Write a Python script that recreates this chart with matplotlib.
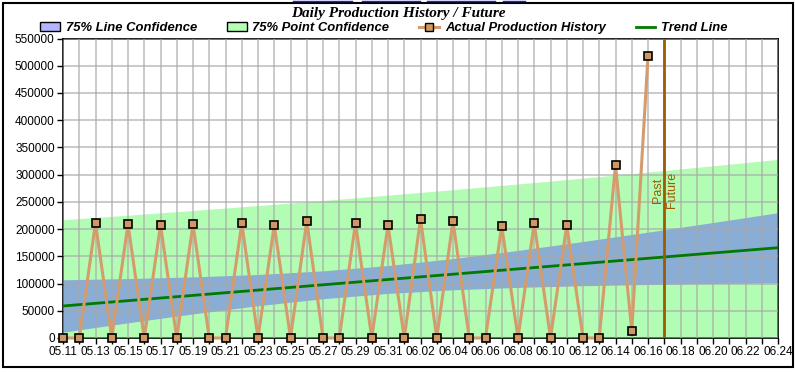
import matplotlib
matplotlib.use("Agg")
import matplotlib.pyplot as plt
from matplotlib.patches import Rectangle, Patch
from matplotlib.lines import Line2D
import numpy as np

# day labels (05.11 .. 06.24), one per day
days = ["05.%02d" % d for d in range(11, 32)] + ["06.%02d" % d for d in range(1, 25)]

# actual production history, 05.11 .. 06.16
actual = [0, 0, 211000, 0, 209000, 0, 207500, 0, 209000, 0,
          0, 211000, 0, 207500, 0, 214800, 0, 0, 211000, 0,
          207500, 0, 218500, 0, 214800, 0, 0, 205600, 0, 211000,
          0, 207500, 0, 0, 317600, 13200, 518000]

# trend line and confidence bands, read every 4 days
band_idx = [0, 4, 8, 12, 16, 20, 24, 28, 32, 36, 40, 44]
trend = [58800, 68530, 78260, 87980, 97710, 107440, 117170, 126900, 136620, 146350, 156080, 165810]
line_hi = [106860, 109130, 112200, 116630, 123310, 133040, 145820, 160840, 177220, 194410, 212080, 230080]
line_lo = [10740, 27930, 44320, 59330, 72110, 81840, 88520, 92960, 96020, 98290, 100080, 101540]
point_hi = [217200, 225520, 234190, 243190, 252560, 262290, 272380, 282830, 293610, 304750, 316220, 328010]
point_lo = [-99600, -88460, -77670, -67230, -57140, -47410, -38040, -29030, -20370, -12050, -4060, 3610]

split_day = "06.17"

C_GREEN = "#b3fcb3"
C_BLUE = "#8aadd6"
C_ACT = "#d49c6c"
C_MARK = "#cf9763"
C_SPLIT = "#a05a00"

fig = plt.figure(figsize=(7.95, 3.73), dpi=100)
ax = fig.add_axes([63 / 795, 35 / 373, 715 / 795, 299.5 / 373])

x = np.arange(len(days))
bx = np.array(band_idx)

ax.fill_between(bx, point_lo, point_hi, color=C_GREEN, lw=0, zorder=1)
ax.fill_between(bx, line_lo, line_hi, color=C_BLUE, lw=0, zorder=2)

ax.set_xticks(x)
ax.set_xticklabels([d if i % 2 == 0 else "" for i, d in enumerate(days)])
ax.set_yticks(np.arange(0, 550001, 50000))
ax.grid(True, color="#a8a8a8", lw=1.2, alpha=0.7, zorder=3)
ax.set_axisbelow(False)

ax.plot(bx, trend, color="#007a00", lw=2, zorder=4)
ax.plot(x[:len(actual)], actual, color=C_ACT, lw=2.2, marker="s", ms=6,
        mfc=C_MARK, mec="black", mew=1.2, zorder=5, clip_on=False)

sx = days.index(split_day)
ax.axvline(sx, color=C_SPLIT, lw=2, zorder=6)
ax.text(sx - 0.4, 271000, "Past", rotation=90, color=C_SPLIT, fontsize=9,
        ha="center", va="center", family="Liberation Sans", zorder=7)
ax.text(sx + 0.45, 271000, "Future", rotation=90, color=C_SPLIT, fontsize=9,
        ha="center", va="center", family="Liberation Sans", zorder=7)

ax.set_xlim(0, len(days) - 1)
ax.set_ylim(0, 550000)
for s in ax.spines.values():
    s.set_color("black")
    s.set_linewidth(1.2)
ax.tick_params(axis="both", length=4, width=1, labelsize=8.5, pad=2)
for lab in ax.get_xticklabels() + ax.get_yticklabels():
    lab.set_family("Liberation Sans")

fig.text(398 / 795, 1 - 13 / 373, "Daily Production History / Future", ha="center", va="center",
         fontsize=11, fontweight="bold", fontstyle="italic", family="Liberation Serif")

handles = [
    Patch(facecolor="#b4b4ff", edgecolor="black", lw=1),
    Patch(facecolor="#b4ffb4", edgecolor="black", lw=1),
    Line2D([], [], color=C_ACT, lw=2.2, marker="s", ms=6, mfc=C_MARK, mec="black"),
    Line2D([], [], color="#007a00", lw=2),
]
labels = ["75% Line Confidence", "75% Point Confidence", "Actual Production History", "Trend Line"]
fig.legend(handles, labels, loc="center", bbox_to_anchor=(384 / 795, 1 - 28 / 373), ncol=4,
           frameon=False, handlelength=1.5, handleheight=0.75, handletextpad=0.45, columnspacing=2.3,
           borderpad=0, borderaxespad=0,
           prop={"family": "Liberation Sans", "weight": "bold", "style": "italic", "size": 9.4})

# outer frame
fig.patches.append(Rectangle((3 / 795, 6 / 373), 790 / 795, 364 / 373, transform=fig.transFigure,
                             fill=False, edgecolor="black", lw=1.5))
# cut-off links above the frame
for a, b in [(293, 352), (362, 420), (427, 495), (503, 525)]:
    fig.add_artist(Line2D([a / 795, b / 795], [1 - 1 / 373] * 2, color="#2020e0", lw=1,
                          transform=fig.transFigure))

fig.savefig("out.png", dpi=100)
